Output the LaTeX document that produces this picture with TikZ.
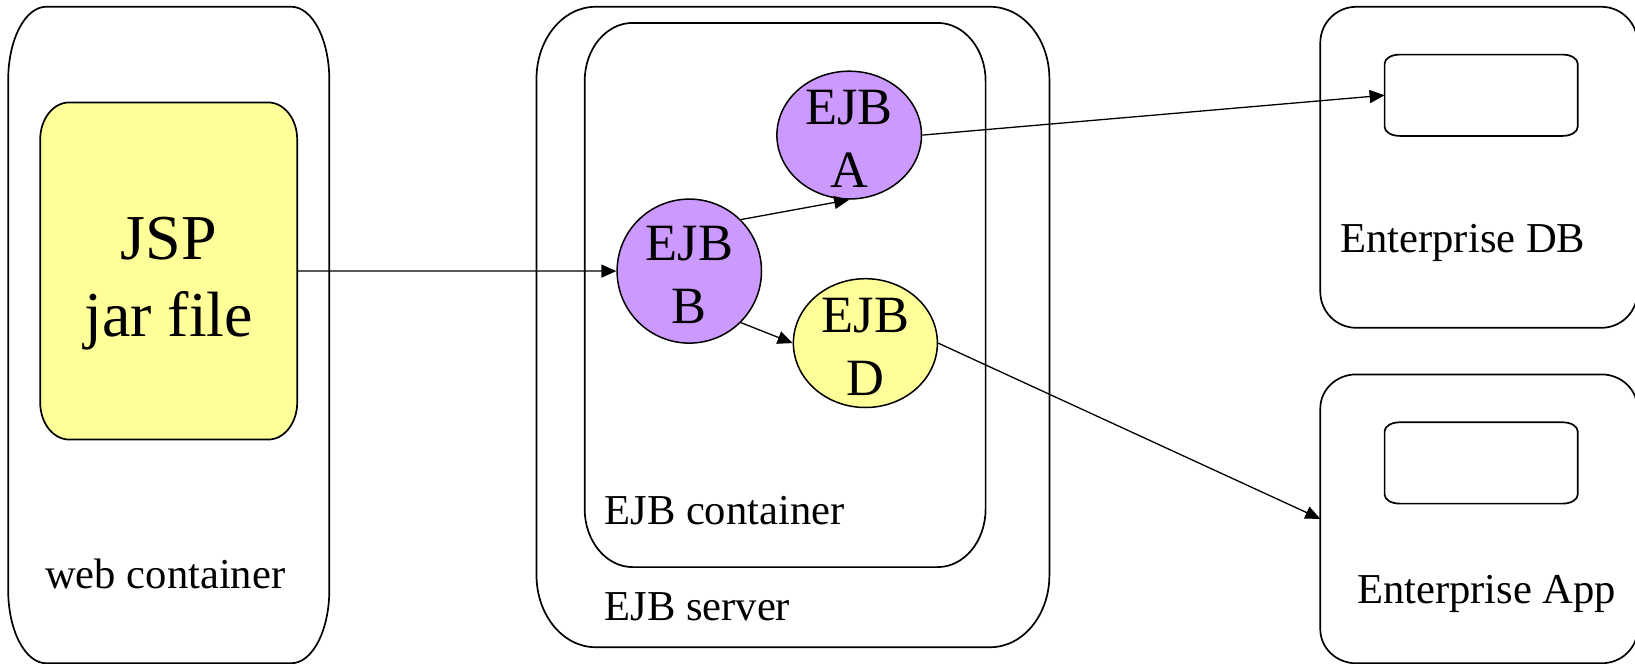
\documentclass[tikz,border=0pt]{standalone}
\usepackage{fontspec}
\setmainfont{Liberation Serif}
\usetikzlibrary{shapes.geometric,arrows.meta,backgrounds}

\definecolor{beanpurple}{HTML}{CC99FF}
\definecolor{jspyellow}{HTML}{FFFF99}

% Rounded frame with elliptical corners around a named node
% #1 extra options, #2 node name, #3 corner x radius, #4 corner y radius
\newcommand\ovalframe[4][]{%
  \draw[frame,#1] ([xshift=#3]#2.north west) -- ([xshift=-#3]#2.north east)
    arc[start angle=90,end angle=0,x radius=#3,y radius=#4]
    -- ([yshift=#4]#2.south east)
    arc[start angle=0,end angle=-90,x radius=#3,y radius=#4]
    -- ([xshift=#3]#2.south west)
    arc[start angle=270,end angle=180,x radius=#3,y radius=#4]
    -- ([yshift=-#4]#2.north west)
    arc[start angle=180,end angle=90,x radius=#3,y radius=#4]
    -- cycle;}

\begin{document}
\begin{tikzpicture}[x=0.5pt,y=-0.5pt,
  box/.style 2 args={rectangle,draw=none,inner sep=0pt,minimum width=#1,minimum height=#2},
  frame/.style={draw=black,line width=0.85pt},
  lbl/.style={font=\fontsize{21.3pt}{25pt}\selectfont,inner sep=0pt,anchor=base west},
  bean/.style={ellipse,draw=black,line width=0.75pt,inner sep=0pt,fill=beanpurple},
  beantext/.style={font=\fontsize{26.2pt}{31.5pt}\selectfont,align=center,inner sep=0pt,yshift=-2pt},
  flow/.style={-{Triangle[length=7.5pt,width=6.5pt]},line width=0.65pt}]

\useasboundingbox (0,0) rectangle (1635,664);

% ---------- box geometry ----------
\node[box={160.15pt}{327.85pt}] (web) at (168.75,335) {};
\node[box={128.1pt}{168.15pt}] (jsp) at (168.7,271) {};
\node[box={256.05pt}{319.8pt}] (server) at (792.95,327) {};
\node[box={200.05pt}{271.7pt}] (container) at (785.15,295) {};
\node[box={158.15pt}{160.1pt}] (db) at (1478.85,167.3) {};
\node[box={96.15pt}{40.25pt}] (dbinner) at (1481.15,95.25) {};
\node[box={158.15pt}{144.05pt}] (app) at (1478.85,518.85) {};
\node[box={96.15pt}{40.25pt}] (appinner) at (1481.15,462.95) {};

\begin{scope}[on background layer]
  \ovalframe{web}{19pt}{36.5pt}
  \ovalframe[fill=jspyellow]{jsp}{14.5pt}{18.5pt}
  \ovalframe{server}{29.5pt}{36pt}
  \ovalframe{container}{24pt}{29pt}
  \ovalframe{db}{18pt}{18pt}
  \ovalframe{dbinner}{7.5pt}{4.5pt}
  \ovalframe{app}{18pt}{17pt}
  \ovalframe{appinner}{7.5pt}{4.5pt}
\end{scope}

% ---------- texts ----------
\node[font=\fontsize{32pt}{38.75pt}\selectfont,align=center,inner sep=0pt]
  (jsptext) at (168.7,283.7) {JSP\\jar file};
\node[lbl] (weblabel) at (44.8,588.7) {web container};
\node[lbl] (containerlabel) at (604,524) {EJB container};
\node[lbl] (serverlabel) at (604,620.5) {EJB server};
\node[lbl] (dblabel) at (1340,252) {Enterprise DB};
\node[lbl] (applabel) at (1356.7,603.6) {Enterprise App};

% ---------- beans ----------
\node[bean,minimum width=72.3pt,minimum height=63.9pt,
  label={[beantext]center:{EJB\\A}}] (A) at (849.2,135.1) {};
\node[bean,minimum width=72.2pt,minimum height=72pt,
  label={[beantext]center:{EJB\\B}}] (B) at (689.3,271.1) {};
\node[bean,fill=jspyellow,minimum width=72pt,minimum height=64.4pt,
  label={[beantext]center:{EJB\\D}}] (D) at (865.4,343.1) {};

% ---------- calls ----------
\draw[flow] (jsp.east) -- (B.west);
\draw[flow] (B.45) -- (A.south);
\draw[flow] (B.-45) -- (D.west);
\draw[flow] (A.east) -- (dbinner.west);
\draw[flow] (D.east) -- (app.west);
\end{tikzpicture}
\end{document}
